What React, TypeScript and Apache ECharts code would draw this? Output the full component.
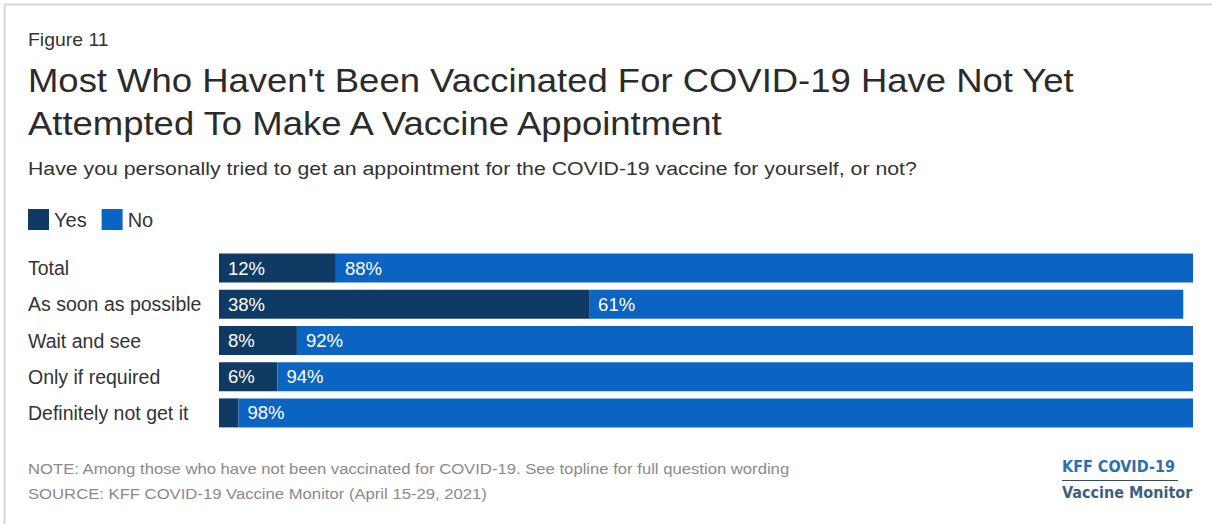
import React, { useEffect, useRef } from "react";
import * as echarts from "echarts";

const categories = ["Total", "As soon as possible", "Wait and see", "Only if required", "Definitely not get it"];
const yesValues = [12, 38, 8, 6, 2];
const noValues = [88, 61, 92, 94, 98];
const seriesNames = ["Yes", "No"];

const FONT = "'Liberation Sans', Arial, Helvetica, sans-serif";
const LOGO_FONT = "'DejaVu Sans Condensed', 'Liberation Sans Narrow', sans-serif";
const YES_COLOR = "#0f3a64";
const NO_COLOR = "#0b64c1";

export default function App() {
  const ref = useRef<HTMLDivElement>(null);
  useEffect(() => {
    document.body.style.margin = "0";
    const chart = echarts.init(ref.current!, null, { renderer: "svg" });
    const labelCfg = {
      show: true,
      position: "insideLeft",
      distance: 9,
      color: "#ffffff",
      fontSize: 18.5,
      fontFamily: FONT,
      formatter: (p: any) => (p.value >= 5 ? p.value + "%" : ""),
    };
    chart.setOption({
      animation: false,
      backgroundColor: "#ffffff",
      textStyle: { fontFamily: FONT },
      legend: {
        data: seriesNames,
        left: 28,
        top: 209,
        padding: 0,
        itemGap: 15,
        itemWidth: 21,
        itemHeight: 21,
        icon: "rect",
        textStyle: { fontSize: 20, color: "#333", fontFamily: FONT },
      },
      grid: { left: 219, right: 19, top: 250, height: 181, containLabel: false },
      xAxis: { type: "value", min: 0, max: 100, show: false },
      yAxis: {
        type: "category",
        data: categories,
        inverse: true,
        axisLine: { show: false },
        axisTick: { show: false },
        axisLabel: {
          align: "left",
          margin: 191,
          fontSize: 19.5,
          color: "#333",
          fontFamily: FONT,
        },
      },
      series: [
        {
          name: seriesNames[0],
          type: "bar",
          stack: "s",
          data: yesValues,
          barWidth: 29,
          itemStyle: { color: YES_COLOR },
          label: labelCfg,
        },
        {
          name: seriesNames[1],
          type: "bar",
          stack: "s",
          data: noValues,
          barWidth: 29,
          itemStyle: { color: NO_COLOR },
          label: labelCfg,
        },
      ],
      graphic: [
        { type: "line", shape: { x1: 4.5, y1: 4.5, x2: 1212, y2: 4.5 }, style: { stroke: "#d6d6d6", lineWidth: 2 } },
        { type: "line", shape: { x1: 4.5, y1: 4.5, x2: 4.5, y2: 524 }, style: { stroke: "#d6d6d6", lineWidth: 2 } },
        {
          type: "text",
          x: 28,
          y: 31,
          scaleX: 1.08,
          style: { text: "Figure 11", fontSize: 18, fill: "#333", fontFamily: FONT, verticalAlign: "top" },
        },
        {
          type: "text",
          x: 28,
          y: 59,
          scaleX: 1.105,
          style: {
            text: "Most Who Haven't Been Vaccinated For COVID-19 Have Not Yet\nAttempted To Make A Vaccine Appointment",
            fontSize: 33,
            lineHeight: 43,
            fill: "#2b2b2b",
            fontFamily: FONT,
            verticalAlign: "top",
          },
        },
        {
          type: "text",
          x: 28,
          y: 158.5,
          scaleX: 1.12,
          style: {
            text: "Have you personally tried to get an appointment for the COVID-19 vaccine for yourself, or not?",
            fontSize: 19,
            fill: "#333",
            fontFamily: FONT,
            verticalAlign: "top",
          },
        },
        {
          type: "text",
          x: 28,
          y: 456,
          scaleX: 1.15,
          style: {
            text: "NOTE: Among those who have not been vaccinated for COVID-19. See topline for full question wording\nSOURCE: KFF COVID-19 Vaccine Monitor (April 15-29, 2021)",
            fontSize: 14.5,
            lineHeight: 25,
            fill: "#8a8a8a",
            fontFamily: FONT,
            verticalAlign: "top",
          },
        },
        {
          type: "text",
          left: 1062,
          top: 458,
          style: {
            text: "KFF COVID-19",
            fontSize: 16,
            fontWeight: "bold",
            fill: "#2c6fb0",
            fontFamily: LOGO_FONT,
          },
        },
        { type: "line", shape: { x1: 1062, y1: 480.5, x2: 1178, y2: 480.5 }, style: { stroke: "#3a4a5a", lineWidth: 1 } },
        {
          type: "text",
          left: 1062,
          top: 484,
          style: {
            text: "Vaccine Monitor",
            fontSize: 16,
            fontWeight: "bold",
            fill: "#3e5f80",
            fontFamily: LOGO_FONT,
          },
        },
      ],
    });
    return () => chart.dispose();
  }, []);
  return <div ref={ref} style={{ width: 1212, height: 524 }} />;
}
